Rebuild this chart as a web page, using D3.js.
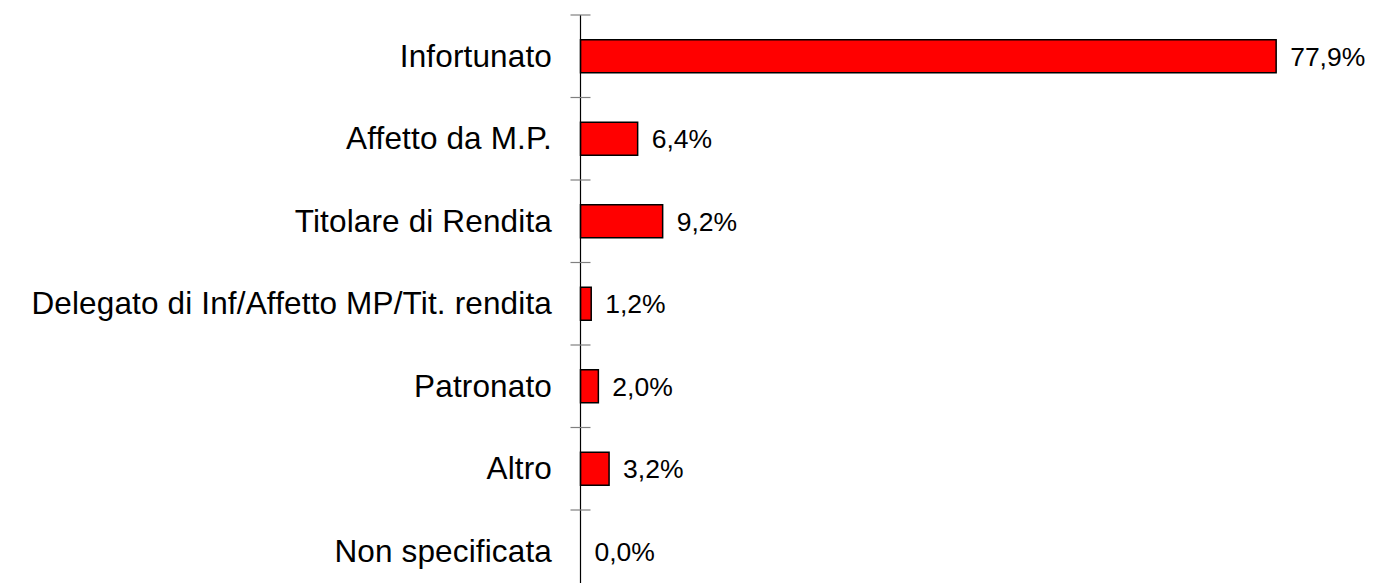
<!DOCTYPE html>
<html><head><meta charset="utf-8">
<script src="https://cdn.jsdelivr.net/npm/d3@7"></script>
<style>body{margin:0;background:#fff;}svg{display:block;}</style>
</head><body>
<svg id="c" width="1375" height="583"></svg>
<script>
const categories = ["Infortunato","Affetto da M.P.","Titolare di Rendita","Delegato di Inf/Affetto MP/Tit. rendita","Patronato","Altro","Non specificata"];
const values = [77.9, 6.4, 9.2, 1.2, 2.0, 3.2, 0.0];
const valueLabels = ["77,9%","6,4%","9,2%","1,2%","2,0%","3,2%","0,0%"];

const svg = d3.select("#c");
const x0 = 580.5, yTop = 15, step = 82.5;
const x = d3.scaleLinear().domain([0,100]).range([x0, x0 + 893]);
const y = d3.scaleBand().domain(categories).range([yTop, yTop + step*categories.length]).paddingInner(0.6).paddingOuter(0.3);

// bars
svg.selectAll("rect.bar").data(values).enter().append("rect")
  .attr("x", x(0))
  .attr("y", (d,i)=>y(categories[i]))
  .attr("width", d=>x(d)-x(0))
  .attr("height", y.bandwidth())
  .attr("fill", "#FF0000")
  .attr("stroke", d=>d>0?"#000":"none")
  .attr("stroke-width", 1.5);

// axis line
svg.append("line").attr("x1",x0).attr("x2",x0).attr("y1",yTop).attr("y2",583).attr("stroke","#000").attr("stroke-width",1.2);
// ticks between categories
const tickY = d3.range(categories.length).map(i=>yTop + i*step);
svg.selectAll("line.tick").data(tickY).enter().append("line")
  .attr("x1", x0-10).attr("x2", x0+10).attr("y1", d=>d).attr("y2", d=>d)
  .attr("stroke","#808080").attr("stroke-width",1.2);

// category labels
svg.selectAll("text.cat").data(categories).enter().append("text")
  .attr("x", 552).attr("y", d=>y(d)+y.bandwidth()/2).attr("dy","0.33em")
  .attr("text-anchor","end").attr("font-family","Liberation Sans, Arial, sans-serif").attr("font-size",31.5)
  .attr("letter-spacing",0.15)
  .attr("fill","#000").text(d=>d);

// value labels
svg.selectAll("text.val").data(values).enter().append("text")
  .attr("x", d=>x(d)+14).attr("y", (d,i)=>y(categories[i])+y.bandwidth()/2).attr("dy","0.35em")
  .attr("font-family","Liberation Sans, Arial, sans-serif").attr("font-size",26.5)
  .attr("fill","#000").text((d,i)=>valueLabels[i]);
</script>
</body></html>
